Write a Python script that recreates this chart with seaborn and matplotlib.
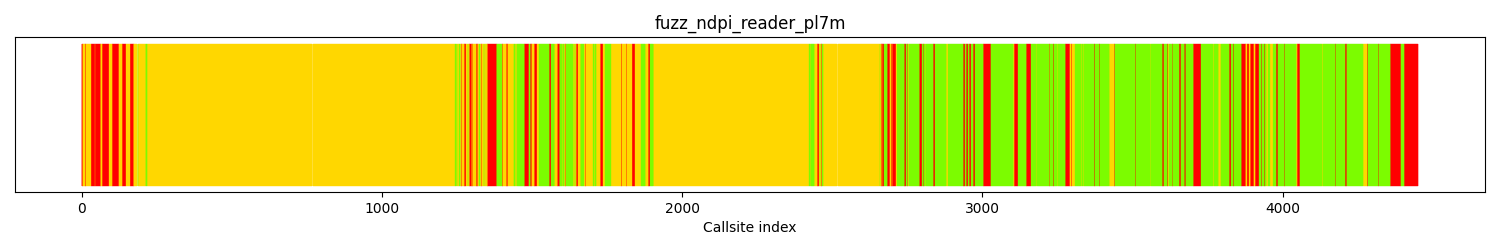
import numpy as np
import pandas as pd
import matplotlib
matplotlib.use("Agg")
import matplotlib.pyplot as plt
import seaborn as sns

title = "fuzz_ndpi_reader_pl7m"
x_label = "Callsite index"
n_callsites = 4452
x_ticks = [0, 1000, 2000, 3000, 4000]

# (start callsite index, colour code) runs
runs_head = [
    (0, "R"), (4, "Y"), (10, "R"), (14, "Y"), (20, "R"), (22, "Y"), (30, "R"), (45, "Y"),
    (46, "R"), (63, "Y"), (68, "R"), (92, "Y"), (101, "R"), (125, "Y"), (134, "R"), (149, "Y"),
    (160, "R"), (173, "Y"), (186, "G"), (188, "Y"), (213, "G"), (217, "Y"),
]
runs_mid1 = [
    (1245, "G"), (1248, "Y"), (1250, "G"), (1252, "Y"), (1258, "G"), (1260, "Y"), (1265, "R"),
    (1267, "Y"), (1275, "R"), (1282, "Y"), (1286, "G"), (1288, "Y"), (1292, "R"), (1299, "Y"),
    (1302, "R"), (1304, "Y"), (1315, "R"), (1319, "Y"), (1325, "G"), (1327, "Y"), (1332, "R"),
    (1335, "Y"), (1340, "G"), (1342, "Y"), (1347, "G"), (1348, "Y"), (1352, "R"), (1382, "G"),
    (1399, "R"), (1402, "Y"), (1415, "R"), (1419, "Y"), (1432, "R"), (1435, "Y"), (1440, "G"),
    (1444, "Y"), (1449, "G"), (1475, "R"), (1490, "G"), (1494, "R"), (1499, "Y"), (1503, "R"),
    (1505, "Y"), (1508, "R"), (1518, "Y"), (1525, "G"), (1558, "R"), (1565, "G"), (1575, "Y"),
    (1585, "R"), (1592, "G"), (1600, "Y"), (1603, "G"), (1608, "Y"), (1611, "R"), (1613, "Y"),
    (1615, "G"), (1638, "Y"), (1642, "G"), (1645, "Y"), (1648, "R"), (1655, "Y"), (1662, "G"),
    (1672, "R"), (1675, "Y"), (1678, "R"), (1680, "Y"), (1705, "G"), (1708, "Y"), (1711, "G"),
    (1713, "Y"), (1728, "R"), (1738, "Y"), (1745, "G"), (1762, "Y"), (1796, "R"), (1799, "Y"),
    (1815, "R"), (1818, "Y"), (1832, "R"), (1845, "Y"), (1852, "R"), (1854, "Y"), (1865, "G"),
    (1878, "Y"), (1888, "R"), (1895, "G"), (1905, "Y"),
]
runs_mid2 = [
    (2424, "G"), (2427, "Y"), (2429, "G"), (2441, "Y"), (2445, "R"), (2447, "Y"), (2451, "R"),
    (2458, "Y"), (2459, "G"), (2461, "Y"), (2464, "R"), (2467, "Y"), (2468, "G"), (2470, "Y"),
    (2658, "G"), (2660, "Y"), (2663, "R"), (2665, "Y"), (2667, "R"), (2674, "G"), (2684, "R"),
    (2693, "Y"), (2695, "R"), (2698, "Y"), (2700, "R"), (2714, "Y"), (2717, "G"), (2741, "R"),
    (2747, "G"), (2751, "R"), (2753, "Y"), (2755, "G"), (2791, "R"), (2801, "G"), (2803, "R"),
    (2805, "G"), (2810, "Y"), (2812, "G"), (2837, "R"), (2844, "G"), (2880, "Y"), (2887, "G"),
    (2937, "R"), (2944, "G"), (2947, "R"), (2954, "G"), (2957, "R"), (2964, "G"), (2970, "R"),
    (2977, "G"), (3004, "R"), (3030, "G"), (3104, "Y"), (3106, "R"), (3120, "G"), (3147, "R"),
    (3164, "G"), (3180, "Y"), (3182, "G"),
]
runs_tail1 = [
    (3223, "R"), (3225, "Y"), (3227, "G"), (3237, "R"), (3240, "G"), (3250, "Y"), (3253, "G"),
    (3258, "Y"), (3260, "G"), (3277, "R"), (3293, "Y"), (3296, "R"), (3299, "Y"), (3310, "G"),
    (3330, "Y"), (3333, "G"), (3336, "Y"), (3338, "G"), (3373, "R"), (3377, "G"), (3390, "R"),
    (3393, "G"), (3423, "Y"), (3440, "R"), (3443, "G"), (3510, "R"), (3513, "G"), (3560, "Y"),
    (3562, "G"), (3600, "R"), (3606, "G"), (3617, "R"), (3620, "Y"), (3623, "G"), (3633, "R"),
    (3635, "Y"), (3636, "G"), (3656, "R"), (3663, "G"), (3674, "R"), (3678, "G"), (3703, "R"),
    (3730, "G"), (3770, "Y"), (3773, "G"), (3786, "Y"), (3796, "G"), (3823, "R"), (3830, "G"),
    (3836, "R"), (3840, "G"),
]
runs_tail2 = [
    (3863, "R"), (3878, "Y"), (3881, "R"), (3890, "Y"), (3893, "R"), (3906, "Y"), (3909, "R"),
    (3923, "G"), (3930, "R"), (3933, "G"), (3940, "R"), (3943, "G"), (3946, "Y"), (3953, "G"),
    (3958, "Y"), (3970, "G"), (3979, "R"), (3986, "G"), (4006, "R"), (4009, "G"), (4046, "Y"),
    (4049, "R"), (4059, "G"), (4071, "R"), (4073, "G"), (4078, "Y"), (4080, "G"), (4132, "Y"),
    (4136, "G"), (4177, "R"), (4180, "G"), (4209, "R"), (4215, "G"), (4269, "Y"), (4282, "R"),
    (4285, "G"), (4320, "R"), (4323, "G"), (4359, "R"), (4395, "G"), (4405, "R"),
]

color_map = {"R": "#ff0000", "Y": "#ffd700", "G": "#7cfc00"}

runs = runs_head + runs_mid1 + runs_mid2 + runs_tail1 + runs_tail2
run_starts = [s for s, _ in runs]
run_codes = [c for _, c in runs]
run_lengths = np.diff(run_starts + [n_callsites])
callsite_codes = np.repeat(run_codes, run_lengths)

df = pd.DataFrame({
    "index": np.arange(n_callsites),
    "value": np.ones(n_callsites),
    "code": callsite_codes,
})

fig, ax = plt.subplots(figsize=(15, 2.5), dpi=100)
fig.subplots_adjust(left=0.01, right=0.99, top=0.852, bottom=0.232)

sns.barplot(data=df, x="index", y="value", hue="code", palette=color_map,
            native_scale=True, width=1, dodge=False, errorbar=None,
            saturation=1, legend=False, ax=ax)

# close anti-aliasing seams between neighbouring bars
for p in ax.patches:
    p.set_edgecolor(p.get_facecolor())
    p.set_linewidth(0.25)

ax.set_xlim(-0.05 * n_callsites, n_callsites * 1.05)
ax.set_ylim(-0.045, 1.05)
ax.set_yticks([])
ax.set_ylabel("")
ax.set_xticks(x_ticks)
ax.set_xticklabels([str(t) for t in x_ticks])
ax.set_xlabel(x_label)
ax.set_title(title)
for s in ax.spines.values():
    s.set_visible(True)
    s.set_color("black")

fig.savefig("out.png", dpi=100)
